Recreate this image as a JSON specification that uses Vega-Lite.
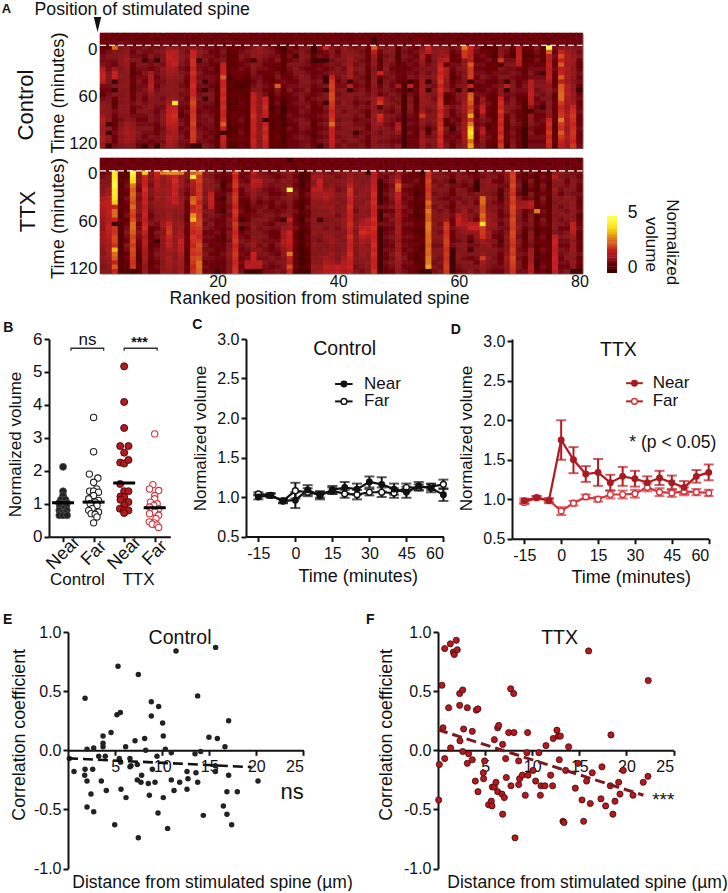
{"$schema":"https://vega.github.io/schema/vega-lite/v6.json","padding":0,"spacing":0,
"config":{"view":{"stroke":null},"font":"Liberation Sans","text":{"font":"Liberation Sans","color":"#111"},"axis":{"grid":false,"domainColor":"#111","tickColor":"#111","domainWidth":2,"tickWidth":2,"tickSize":5,"labelFont":"Liberation Sans","titleFont":"Liberation Sans","labelColor":"#111","titleColor":"#111","labelFontSize":16,"titleFontSize":17,"titleFontWeight":"normal"}},
"datasets":{
"hm1":[{"c":1,"v":[8,8,7,5,8,9,9,10,17,19,20,18,9,8,6,9,11,13,12,14,17,16,14,15,16,15,14]},{"c":2,"v":[8,7,8,6,9,10,9,9,9,10,11,10,9,8,9,10,10,11,12,11,12,1,13,1,12,11,1]},{"c":3,"v":[7,8,8,28,11,10,9,8,14,20,19,1,10,1,11,8,5,7,9,8,7,6,8,9,8,7,9]},{"c":4,"v":[8,7,9,10,10,12,11,11,10,11,12,11,12,11,10,11,10,11,12,10,9,10,12,13,11,12,10]},{"c":5,"v":[7,8,8,11,12,13,14,14,13,12,11,12,12,11,11,12,11,12,12,11,12,14,15,16,15,14,12]},{"c":6,"v":[8,8,7,9,8,9,10,7,6,5,7,8,6,7,8,7,9,8,7,9,10,12,13,15,14,13,11]},{"c":7,"v":[8,7,8,9,10,9,10,10,9,8,9,10,9,9,10,10,11,9,10,9,8,9,10,11,10,9,8]},{"c":8,"v":[7,8,7,10,9,8,1,10,9,10,9,8,9,10,9,8,9,10,11,9,8,9,10,9,8,9,1]},{"c":9,"v":[8,8,8,9,9,11,9,9,8,15,16,17,18,16,13,12,11,12,10,11,10,9,10,9,10,8,9]},{"c":10,"v":[8,7,8,9,10,9,1,10,9,9,8,9,8,9,10,11,10,9,8,9,9,8,7,8,9,9,1]},{"c":11,"v":[7,8,8,10,11,10,10,9,12,11,10,9,10,11,10,9,10,9,10,11,12,10,9,10,10,9,10]},{"c":12,"v":[8,8,7,13,17,19,18,17,15,14,13,12,11,12,11,13,15,18,19,20,19,18,16,15,17,16,15]},{"c":13,"v":[8,7,8,12,18,17,18,19,15,14,12,11,12,11,12,13,42,19,20,21,20,18,17,16,15,14,13]},{"c":14,"v":[7,8,8,10,11,12,12,10,9,10,11,10,9,10,9,10,9,8,7,5,9,10,8,9,10,9,9]},{"c":15,"v":[8,8,7,10,9,10,9,9,8,9,8,7,8,9,9,8,9,8,9,8,7,8,9,8,8,9,8]},{"c":16,"v":[8,7,8,11,20,20,21,21,20,21,19,20,21,20,20,22,24,22,21,22,22,23,21,22,22,21,1]},{"c":17,"v":[7,8,8,10,13,12,1,9,9,10,9,10,9,8,9,10,9,9,8,9,9,8,9,10,10,9,1]},{"c":18,"v":[8,8,8,9,10,9,10,9,8,8,9,1,9,1,10,1,9,8,9,10,9,9,8,9,8,9,10]},{"c":19,"v":[8,7,7,9,8,9,8,8,9,8,9,9,8,9,10,10,9,8,8,9,10,9,9,8,9,8,9]},{"c":20,"v":[7,8,8,8,7,8,9,6,5,7,8,7,6,5,7,6,5,6,7,6,5,6,7,6,5,6,6]},{"c":21,"v":[8,8,7,9,10,9,10,19,20,20,26,20,20,21,20,21,20,21,20,20,21,26,20,1,20,19,18]},{"c":22,"v":[7,8,8,7,6,5,6,5,6,5,4,5,6,5,6,5,4,5,6,5,6,5,4,5,6,5,5]},{"c":23,"v":[8,7,8,8,7,6,7,6,7,8,7,6,5,6,7,6,5,6,7,8,7,6,5,6,7,6,5]},{"c":24,"v":[8,8,7,8,9,10,9,8,9,8,7,5,4,5,6,7,8,7,6,8,9,7,8,9,8,7,8]},{"c":25,"v":[8,8,8,9,10,9,8,9,8,7,5,4,5,6,5,6,5,6,5,6,5,6,5,6,7,6,6]},{"c":26,"v":[7,8,8,11,12,13,1,12,11,10,9,8,9,10,19,20,18,19,20,21,20,19,20,19,18,20,19]},{"c":27,"v":[8,8,7,14,13,12,11,10,9,8,9,10,11,10,12,13,12,13,12,13,12,11,12,13,12,11,12]},{"c":28,"v":[8,7,8,10,11,10,9,8,9,8,7,8,9,8,9,20,20,21,20,19,1,20,21,20,21,20,19]},{"c":29,"v":[7,8,8,9,10,9,8,8,7,8,6,7,8,6,5,4,5,1,5,6,5,4,5,6,5,6,5]},{"c":30,"v":[8,8,7,7,8,9,10,8,7,9,10,8,26,10,9,8,9,7,8,7,6,7,6,7,8,7,7]},{"c":31,"v":[8,7,8,1,5,6,5,6,5,6,8,9,8,7,6,5,4,1,1,4,3,4,5,4,3,4,5]},{"c":32,"v":[7,8,7,9,8,9,8,10,9,8,7,8,9,10,8,7,8,7,8,9,8,7,9,8,7,8,8]},{"c":33,"v":[8,8,8,8,9,1,9,10,11,10,9,8,9,8,9,8,9,8,7,8,9,8,7,8,9,8,8]},{"c":34,"v":[7,8,8,10,11,12,11,10,9,11,12,11,10,9,10,11,10,9,10,9,10,11,10,9,10,9,9]},{"c":35,"v":[8,7,7,10,9,10,9,9,8,9,10,11,10,11,9,8,9,10,9,8,9,10,9,8,9,9,10]},{"c":36,"v":[8,8,8,1,1,6,1,7,8,7,8,9,8,7,8,9,7,6,7,8,6,5,7,6,5,7,8]},{"c":37,"v":[7,8,7,9,8,9,1,8,9,8,9,10,9,8,9,10,9,8,7,9,8,9,8,9,8,9,1]},{"c":38,"v":[8,7,8,20,9,8,1,9,8,9,1,1,10,1,11,10,1,10,9,10,9,10,9,10,9,10,9]},{"c":39,"v":[8,8,8,10,11,10,9,10,9,11,20,22,23,22,24,24,22,21,20,21,22,28,20,19,20,19,18]},{"c":40,"v":[7,8,7,9,8,9,10,9,11,10,9,8,9,10,9,10,9,10,11,10,9,10,9,10,9,10,9]},{"c":41,"v":[8,8,8,13,12,11,10,11,9,10,11,10,9,11,10,11,12,10,9,11,10,12,10,11,10,9,10]},{"c":42,"v":[7,7,8,10,11,13,14,15,16,15,16,1,18,1,12,11,10,11,10,11,10,11,12,10,11,10,9]},{"c":43,"v":[8,8,7,9,10,11,10,9,10,9,10,9,8,9,10,9,8,9,10,9,8,9,10,1,9,10,9]},{"c":44,"v":[8,7,8,10,9,10,9,10,11,10,9,10,9,10,11,10,9,10,9,10,9,9,10,9,10,9,10]},{"c":45,"v":[7,8,8,8,7,6,7,8,6,7,5,6,7,8,9,10,8,9,7,6,9,8,7,9,8,7,8]},{"c":46,"v":[8,1,1,26,18,14,12,13,10,11,12,13,12,11,12,13,14,12,13,14,12,13,12,11,12,11,12]},{"c":47,"v":[7,8,8,11,8,7,5,6,7,20,7,3,8,9,8,19,22,3,10,21,20,14,10,9,10,9,10]},{"c":48,"v":[8,8,7,10,11,9,10,11,12,10,9,10,11,10,9,11,12,10,9,11,10,9,10,11,10,9,10]},{"c":49,"v":[8,7,8,12,11,10,11,9,8,9,10,9,8,9,10,9,10,9,8,10,9,8,9,10,9,8,9]},{"c":50,"v":[7,8,8,6,5,4,5,6,7,7,8,7,14,8,9,10,9,11,10,9,8,16,18,13,9,8,12]},{"c":51,"v":[8,8,7,10,9,10,9,8,7,8,7,5,4,5,4,3,4,3,4,3,3,3,3,3,3,3,3]},{"c":52,"v":[8,7,7,9,8,9,8,9,8,9,10,1,19,1,9,11,10,12,10,9,8,9,8,9,8,7,8]},{"c":53,"v":[7,8,8,8,9,7,9,8,9,8,9,7,6,8,7,4,5,6,7,8,7,8,7,6,7,8,7]},{"c":54,"v":[8,8,8,11,13,16,14,12,10,11,13,14,15,16,15,14,13,12,14,22,13,12,10,14,13,15,14]},{"c":55,"v":[7,7,8,20,18,8,6,9,10,9,10,1,10,1,11,12,13,10,9,11,10,9,4,5,9,10,9]},{"c":56,"v":[8,8,8,11,12,11,10,11,10,11,12,10,9,11,10,9,11,12,10,11,12,10,9,11,10,11,10]},{"c":57,"v":[8,7,7,12,13,14,16,20,21,20,21,22,20,21,20,21,22,21,20,21,20,21,22,21,20,21,20]},{"c":58,"v":[7,8,8,11,12,15,18,5,16,15,14,13,12,14,5,4,6,13,11,12,5,5,10,9,8,9,10]},{"c":59,"v":[8,8,7,9,8,6,7,9,8,6,5,7,8,9,8,7,8,9,7,8,9,7,1,8,9,8,7]},{"c":60,"v":[8,7,8,10,9,8,7,9,10,9,8,9,10,1,11,10,9,11,10,9,8,9,10,9,8,9,10]},{"c":61,"v":[7,8,8,30,22,22,12,13,12,10,11,10,11,12,13,14,15,16,14,12,13,14,15,16,15,14,13]},{"c":62,"v":[8,8,8,20,18,18,18,26,22,22,22,1,20,1,26,28,25,22,24,34,22,30,38,42,38,28,34]},{"c":63,"v":[7,7,8,10,9,8,6,9,8,9,8,9,7,8,9,7,8,9,8,7,9,8,9,8,7,8,9]},{"c":64,"v":[8,8,7,7,8,9,8,9,8,9,10,9,8,7,9,14,13,18,20,13,10,9,16,18,12,11,10]},{"c":65,"v":[7,8,8,6,7,8,9,7,6,8,9,7,8,9,8,7,9,8,7,8,9,6,5,8,9,8,7]},{"c":66,"v":[8,7,7,7,5,4,6,8,7,9,8,7,9,8,6,7,5,6,7,5,6,7,8,7,6,7,5]},{"c":67,"v":[8,8,8,10,11,12,22,3,10,9,10,9,10,12,12,20,21,20,22,20,21,20,21,20,22,20,22]},{"c":68,"v":[7,8,7,10,9,8,9,10,9,9,10,1,18,1,9,8,9,10,11,8,6,5,6,7,6,5,5]},{"c":69,"v":[8,7,8,7,5,4,9,10,9,10,9,10,11,10,9,10,11,10,9,10,11,10,9,10,9,10,11]},{"c":70,"v":[8,8,8,18,18,19,18,17,8,9,8,7,8,9,8,7,8,9,8,7,8,9,8,7,8,7,8]},{"c":71,"v":[7,8,7,7,6,5,6,7,6,7,7,9,10,9,8,6,5,4,5,6,5,5,1,1,1,1,1]},{"c":72,"v":[8,7,8,8,6,5,6,8,9,10,9,18,17,18,19,18,17,10,4,13,12,10,9,10,9,8,9]},{"c":73,"v":[8,8,7,10,9,8,9,8,9,8,9,10,11,9,10,8,9,8,9,7,8,9,8,7,9,8,9]},{"c":74,"v":[7,8,8,6,7,6,5,8,9,1,9,10,11,10,9,10,8,1,9,8,9,8,7,8,9,8,9]},{"c":75,"v":[8,7,8,50,26,18,17,19,18,18,19,16,12,13,11,10,12,11,13,12,20,21,20,22,20,21,20]},{"c":76,"v":[7,8,8,9,8,9,8,7,9,8,7,6,8,9,7,6,8,7,6,8,7,6,5,7,6,7,6]},{"c":77,"v":[8,8,7,11,20,24,20,26,18,20,26,18,26,26,28,28,22,20,21,22,30,22,21,26,22,20,18]},{"c":78,"v":[8,7,8,12,14,16,15,14,16,15,16,14,18,17,18,16,15,14,16,18,15,16,14,15,16,14,15]},{"c":79,"v":[7,8,7,11,12,13,14,13,12,13,12,11,13,12,14,13,15,20,21,22,21,20,21,22,21,20,22]},{"c":80,"v":[8,8,8,10,9,10,8,7,8,9,8,9,7,1,8,9,7,8,9,8,7,8,9,8,7,8,9]}],
"hm2":[{"c":1,"v":[8,7,8,8,9,10,11,11,12,16,18,17,16,15,14,13,12,14,15,14,13,12,11,12,11,10,11]},{"c":2,"v":[7,8,7,9,10,10,12,14,15,18,19,18,19,18,17,18,19,18,17,16,15,16,15,14,13,12,11]},{"c":3,"v":[8,8,8,42,42,46,50,43,44,42,38,20,28,28,20,1,22,21,24,24,21,36,28,26,20,26,20]},{"c":4,"v":[7,7,8,6,5,6,5,7,6,5,7,6,5,4,6,5,4,5,4,5,4,5,4,5,4,5,5]},{"c":5,"v":[8,8,7,5,6,8,9,8,7,9,8,7,8,9,7,8,9,10,9,8,10,9,7,8,7,6,5]},{"c":6,"v":[7,8,8,48,42,40,30,26,28,26,24,28,24,22,24,28,28,26,23,24,22,24,23,22,21,22,1]},{"c":7,"v":[8,7,8,12,10,11,9,8,10,9,11,10,11,9,10,8,9,10,9,8,7,6,5,4,5,6,5]},{"c":8,"v":[7,8,7,38,20,19,20,21,20,19,20,18,19,20,19,20,21,19,16,18,17,16,15,16,14,12,13]},{"c":9,"v":[8,8,8,12,11,10,9,11,10,9,11,10,9,8,9,10,7,6,7,8,6,7,8,7,6,7,8]},{"c":10,"v":[7,7,8,20,18,16,17,15,14,15,13,12,11,10,12,9,8,10,9,1,8,9,10,9,8,9,8]},{"c":11,"v":[8,8,7,30,13,12,13,14,13,12,14,13,12,11,13,14,12,11,13,12,11,12,13,12,11,12,12]},{"c":12,"v":[8,7,8,32,16,15,14,15,14,16,15,14,13,14,15,20,21,22,20,18,19,15,14,16,15,14,13]},{"c":13,"v":[7,8,8,32,20,21,20,19,20,18,19,14,12,11,12,13,12,13,14,12,13,14,12,11,13,12,11]},{"c":14,"v":[8,8,7,30,13,14,15,12,11,13,14,13,12,11,12,13,14,15,16,20,19,18,17,16,15,14,15]},{"c":15,"v":[7,7,8,11,10,9,10,9,8,9,8,7,8,7,6,8,7,6,8,7,8,7,6,7,6,8,7]},{"c":16,"v":[8,8,7,26,44,18,16,15,14,26,28,20,21,32,36,22,21,20,22,21,20,22,21,23,22,20,21]},{"c":17,"v":[7,8,8,30,22,23,21,22,21,22,20,22,21,22,23,24,22,21,20,22,24,23,22,24,28,28,27]},{"c":18,"v":[8,7,8,12,11,13,12,11,10,11,10,9,10,9,10,9,10,8,9,8,10,9,10,9,8,9,8]},{"c":19,"v":[8,8,7,11,10,12,11,13,19,20,19,18,11,10,9,10,9,8,9,8,7,9,8,9,8,7,8]},{"c":20,"v":[7,8,8,9,8,9,10,9,8,7,8,7,8,9,8,7,8,9,7,6,8,7,6,8,7,7,1]},{"c":21,"v":[8,7,7,8,7,5,1,6,8,1,7,6,1,8,7,8,7,6,5,6,7,8,9,8,7,8,7]},{"c":22,"v":[7,8,8,9,8,7,9,8,10,11,10,9,10,9,11,10,9,11,10,9,10,11,12,11,10,11,10]},{"c":23,"v":[8,8,8,22,20,21,22,20,21,22,21,20,22,21,20,22,21,20,21,22,20,21,22,21,20,21,22]},{"c":24,"v":[7,7,8,9,8,9,10,8,7,8,7,8,9,8,1,9,1,8,9,10,9,8,9,8,9,8,9]},{"c":25,"v":[8,8,7,8,9,8,10,11,9,8,6,5,6,8,7,9,8,9,8,9,10,9,8,9,16,18,1]},{"c":26,"v":[7,8,8,18,14,18,17,15,13,12,10,9,8,9,10,11,12,10,11,12,13,11,20,19,18,17,1]},{"c":27,"v":[8,7,8,11,12,18,16,11,10,9,8,9,10,9,11,10,9,10,11,10,9,11,10,9,18,17,1]},{"c":28,"v":[7,8,7,9,10,11,10,9,10,11,9,10,9,10,11,9,10,9,10,9,10,9,10,9,10,9,9]},{"c":29,"v":[8,8,8,8,9,10,9,8,7,9,8,7,9,10,9,8,9,7,8,9,7,8,9,10,9,8,9]},{"c":30,"v":[8,7,7,9,8,9,10,9,8,9,10,9,8,9,8,10,9,8,7,9,10,9,8,9,10,9,10]},{"c":31,"v":[7,8,8,10,9,11,10,11,9,10,9,8,9,11,1,10,13,15,14,16,15,13,12,10,11,10,9]},{"c":32,"v":[1,8,8,12,11,10,12,50,13,12,11,10,11,12,20,13,14,20,19,20,18,17,30,19,18,24,20]},{"c":33,"v":[8,7,7,9,8,9,8,9,10,9,8,7,9,8,7,8,9,7,6,8,7,6,8,7,6,8,1]},{"c":34,"v":[7,8,8,4,3,4,3,5,6,5,4,3,5,4,3,4,5,4,3,4,3,2,3,2,3,4,4]},{"c":35,"v":[8,8,7,6,5,6,8,7,9,8,7,9,8,7,9,8,7,6,8,7,8,6,5,6,5,7,1]},{"c":36,"v":[7,7,8,11,14,12,13,18,16,14,13,12,10,11,13,12,11,13,11,10,12,11,10,11,12,14,13]},{"c":37,"v":[8,8,7,13,15,20,19,18,15,14,12,13,11,12,1,10,11,12,10,9,11,10,11,12,11,13,14]},{"c":38,"v":[7,8,8,10,12,11,10,13,16,17,14,13,11,12,10,11,9,12,13,11,10,12,11,14,16,18,17]},{"c":39,"v":[8,7,8,9,11,10,12,14,15,13,12,14,13,12,11,12,11,12,13,14,13,12,14,13,15,18,17]},{"c":40,"v":[7,8,7,10,9,11,10,9,11,10,12,10,11,9,11,10,9,11,10,12,11,10,11,10,12,19,18]},{"c":41,"v":[8,8,8,11,10,12,11,10,12,11,10,12,11,12,14,13,12,11,12,10,11,12,13,15,17,18,16]},{"c":42,"v":[7,7,8,13,14,15,18,22,21,20,19,21,20,19,20,21,20,19,21,20,19,20,21,20,19,20,18]},{"c":43,"v":[8,8,7,11,10,11,12,11,10,12,11,10,9,11,10,12,11,10,12,11,10,11,10,11,10,9,10]},{"c":44,"v":[7,8,8,12,11,10,11,12,13,12,11,13,12,11,14,16,19,21,18,15,14,13,14,12,11,10,9]},{"c":45,"v":[8,7,8,2,10,11,12,13,12,11,14,13,11,12,18,17,19,20,16,14,12,13,12,11,13,12,11]},{"c":46,"v":[7,8,8,18,17,18,19,20,21,20,21,20,19,20,21,20,21,20,19,20,21,20,21,20,19,20,21]},{"c":47,"v":[8,8,7,9,9,2,2,2,2,2,2,9,2,2,2,9,2,2,2,2,2,2,2,2,2,2,2]},{"c":48,"v":[7,7,8,10,8,9,7,8,9,7,8,9,7,10,8,9,7,8,9,8,7,9,8,7,9,8,7]},{"c":49,"v":[8,8,7,9,10,11,9,10,11,10,9,10,8,9,10,9,8,9,10,9,8,9,10,9,10,9,8]},{"c":50,"v":[7,8,8,13,14,20,26,24,18,19,17,16,15,16,15,14,15,16,14,13,15,14,16,15,14,13,12]},{"c":51,"v":[8,7,7,9,8,7,10,8,9,8,9,10,8,9,8,9,7,8,9,8,9,8,9,10,9,8,9]},{"c":52,"v":[7,8,8,8,7,8,9,7,8,9,7,8,9,7,8,9,7,8,9,7,8,9,8,7,9,8,7]},{"c":53,"v":[8,8,8,7,8,9,7,5,4,5,6,5,3,4,6,7,6,5,7,6,8,7,5,4,6,7,6]},{"c":54,"v":[7,7,8,1,6,5,7,6,5,7,6,5,7,5,6,7,6,5,6,7,6,5,7,6,5,6,1]},{"c":55,"v":[8,8,7,22,21,23,22,21,22,22,28,24,30,26,26,30,30,28,27,28,26,28,27,30,30,34,1]},{"c":56,"v":[7,8,8,11,10,9,11,10,9,10,11,9,10,11,10,12,10,11,12,10,9,10,11,10,9,10,9]},{"c":57,"v":[8,7,8,10,11,10,9,11,10,9,10,11,9,10,11,9,10,9,11,10,9,11,10,9,10,9,10]},{"c":58,"v":[7,8,7,9,10,9,11,10,9,8,10,9,11,12,14,22,22,21,22,23,22,21,22,21,22,23,22]},{"c":59,"v":[8,8,8,9,8,1,9,8,7,9,8,7,8,9,8,7,9,8,7,8,9,1,1,1,1,1,1]},{"c":60,"v":[7,7,8,10,11,10,9,11,10,9,12,11,10,18,20,19,12,11,10,9,11,10,12,11,10,9,8]},{"c":61,"v":[8,8,7,9,10,9,8,10,11,10,9,12,14,13,15,16,14,13,11,10,12,11,10,9,11,10,9]},{"c":62,"v":[7,8,8,8,9,10,9,8,9,10,11,10,9,11,10,18,20,12,8,5,9,2,10,8,11,10,12]},{"c":63,"v":[8,7,7,7,8,1,1,1,10,9,8,10,11,9,8,18,20,13,12,10,9,11,10,9,8,10,9]},{"c":64,"v":[7,8,8,10,9,11,10,12,11,28,28,24,24,28,26,40,22,22,21,14,12,11,13,22,15,13,12]},{"c":65,"v":[8,8,8,10,11,13,12,11,10,12,11,10,12,13,15,14,13,15,14,12,13,11,10,12,11,10,9]},{"c":66,"v":[7,7,8,9,10,8,11,10,9,10,9,11,10,12,11,13,12,9,8,10,9,11,10,9,10,9,8]},{"c":67,"v":[8,8,7,9,8,7,9,5,4,5,8,9,8,7,9,8,9,8,6,5,7,9,8,7,8,9,8]},{"c":68,"v":[7,8,8,12,11,10,9,10,11,10,12,11,10,9,11,10,9,10,12,11,10,11,12,14,13,12,11]},{"c":69,"v":[8,7,8,22,23,22,24,22,21,23,22,24,23,22,24,23,22,24,23,22,21,23,22,24,23,22,21]},{"c":70,"v":[7,8,7,9,8,9,10,9,8,10,14,15,12,11,10,11,12,10,9,11,10,9,10,9,11,10,9]},{"c":71,"v":[8,8,8,5,6,4,1,1,2,8,14,15,7,6,8,9,7,6,5,7,6,8,9,7,6,8,9]},{"c":72,"v":[7,7,8,9,8,10,9,8,10,9,18,17,9,10,11,10,9,11,12,10,9,14,15,14,16,18,17]},{"c":73,"v":[8,8,7,6,4,5,6,5,7,5,6,6,30,5,6,7,5,4,6,7,5,6,4,5,3,4,6]},{"c":74,"v":[7,8,8,8,9,8,10,9,8,10,9,8,9,8,10,9,7,8,9,8,7,9,8,7,8,9,8]},{"c":75,"v":[8,7,8,5,7,6,5,6,7,5,6,5,7,6,5,7,6,7,5,6,7,6,5,6,7,6,5]},{"c":76,"v":[7,8,7,13,17,12,11,14,12,11,10,12,11,10,11,12,11,10,19,20,19,18,19,20,19,20,18]},{"c":77,"v":[8,8,8,11,10,12,11,9,8,10,11,9,10,11,9,10,8,9,10,9,8,10,9,8,9,8,9]},{"c":78,"v":[7,7,8,10,9,8,9,11,10,12,11,10,9,11,10,9,8,10,11,9,8,9,10,11,9,8,10]},{"c":79,"v":[8,8,7,9,10,11,12,10,9,11,12,13,12,11,13,18,19,17,14,12,13,14,12,11,13,12,1]},{"c":80,"v":[7,8,8,9,8,9,8,7,9,8,7,8,9,6,7,8,9,7,6,8,7,8,9,7,8,7,1]}],
"cbar":[{"c":85.4,"r":14.35,"v":50},{"c":85.4,"r":14.86,"v":48},{"c":85.4,"r":15.37,"v":46},{"c":85.4,"r":15.88,"v":44},{"c":85.4,"r":16.39,"v":42},{"c":85.4,"r":16.9,"v":40},{"c":85.4,"r":17.41,"v":38},{"c":85.4,"r":17.92,"v":36},{"c":85.4,"r":18.43,"v":34},{"c":85.4,"r":18.94,"v":32},{"c":85.4,"r":19.45,"v":30},{"c":85.4,"r":19.96,"v":28},{"c":85.4,"r":20.47,"v":26},{"c":85.4,"r":20.98,"v":24},{"c":85.4,"r":21.49,"v":22},{"c":85.4,"r":22,"v":20},{"c":85.4,"r":22.51,"v":18},{"c":85.4,"r":23.02,"v":16},{"c":85.4,"r":23.53,"v":14},{"c":85.4,"r":24.04,"v":12},{"c":85.4,"r":24.55,"v":10},{"c":85.4,"r":25.06,"v":8},{"c":85.4,"r":25.57,"v":6},{"c":85.4,"r":26.08,"v":4},{"c":85.4,"r":26.59,"v":2},{"c":85.4,"r":27.1,"v":0}],
"b_cn":[{"x":1,"y":2.12},{"x":1,"y":1.38},{"x":1,"y":1.25},{"x":0.93,"y":1.12},{"x":1.08,"y":1.12},{"x":0.87,"y":1.02},{"x":1,"y":1},{"x":1.13,"y":1.02},{"x":0.9,"y":0.92},{"x":1.1,"y":0.92},{"x":1,"y":0.85},{"x":0.88,"y":0.8},{"x":1.12,"y":0.8},{"x":0.93,"y":0.72},{"x":1.07,"y":0.72},{"x":0.88,"y":0.65},{"x":1,"y":0.65},{"x":1.13,"y":0.65}],
"b_cf":[{"x":2,"y":3.62},{"x":2,"y":2.58},{"x":1.86,"y":1.9},{"x":2.14,"y":1.78},{"x":2,"y":1.65},{"x":2.1,"y":1.45},{"x":1.87,"y":1.38},{"x":2,"y":1.38},{"x":2.16,"y":1.35},{"x":2,"y":1.25},{"x":1.84,"y":1.15},{"x":2.16,"y":1.1},{"x":2.05,"y":1.05},{"x":1.89,"y":1},{"x":2.11,"y":0.95},{"x":1.95,"y":0.85},{"x":1.84,"y":0.8},{"x":2.16,"y":0.75},{"x":1.92,"y":0.7},{"x":2.05,"y":0.68},{"x":2.11,"y":0.6},{"x":2,"y":0.42}],
"b_tn":[{"x":3,"y":5.17},{"x":3,"y":4.09},{"x":3,"y":3.3},{"x":2.87,"y":2.75},{"x":3.14,"y":2.75},{"x":3,"y":2.55},{"x":2.87,"y":2.25},{"x":3,"y":2.22},{"x":3.14,"y":2.33},{"x":2.87,"y":1.6},{"x":3,"y":1.38},{"x":3.14,"y":1.38},{"x":2.88,"y":1.22},{"x":3,"y":1.2},{"x":2.88,"y":1.12},{"x":3.14,"y":1.05},{"x":3,"y":0.95},{"x":2.86,"y":0.85},{"x":3,"y":0.8},{"x":3.14,"y":0.8},{"x":3,"y":0.72}],
"b_tf":[{"x":4,"y":3.12},{"x":3.94,"y":1.58},{"x":3.83,"y":1.45},{"x":4.13,"y":1.4},{"x":4,"y":1.25},{"x":4,"y":1.15},{"x":3.86,"y":1.05},{"x":4.08,"y":1},{"x":3.97,"y":0.95},{"x":3.83,"y":0.9},{"x":4.13,"y":0.85},{"x":3.92,"y":0.8},{"x":4,"y":0.75},{"x":3.83,"y":0.7},{"x":4.13,"y":0.65},{"x":4.04,"y":0.55},{"x":3.82,"y":0.45},{"x":3.99,"y":0.42},{"x":3.92,"y":0.38},{"x":4.08,"y":0.35},{"x":4.13,"y":0.28}],
"b_mean":[{"x":0.64,"x2":1.36,"y":1.03},{"x":1.64,"x2":2.36,"y":1.05},{"x":2.64,"x2":3.36,"y":1.63},{"x":3.64,"x2":4.36,"y":0.88}],
"b_br":[{"k":1,"x":1.26,"y":5.64},{"k":1,"x":1.26,"y":5.72},{"k":1,"x":2.33,"y":5.72},{"k":1,"x":2.33,"y":5.64},{"k":2,"x":3,"y":5.64},{"k":2,"x":3,"y":5.72},{"k":2,"x":4.08,"y":5.72},{"k":2,"x":4.08,"y":5.64}],
"c_n":[{"t":-15,"m":1,"lo":0.97,"hi":1.03},{"t":-10,"m":1.02,"lo":0.99,"hi":1.05},{"t":-5,"m":0.95,"lo":0.92,"hi":0.98},{"t":0,"m":0.96,"lo":0.86,"hi":1.06},{"t":5,"m":1.09,"lo":1.03,"hi":1.15},{"t":10,"m":1.02,"lo":0.97,"hi":1.07},{"t":15,"m":1.09,"lo":1.04,"hi":1.14},{"t":20,"m":1.12,"lo":1.05,"hi":1.19},{"t":25,"m":1.1,"lo":1.03,"hi":1.17},{"t":30,"m":1.19,"lo":1.12,"hi":1.26},{"t":35,"m":1.16,"lo":1.07,"hi":1.25},{"t":40,"m":1.1,"lo":1.03,"hi":1.17},{"t":45,"m":1.06,"lo":0.99,"hi":1.13},{"t":50,"m":1.14,"lo":1.09,"hi":1.19},{"t":55,"m":1.11,"lo":1.06,"hi":1.16},{"t":60,"m":1.03,"lo":0.95,"hi":1.11}],
"c_f":[{"t":-15,"m":1.04,"lo":1.02,"hi":1.06},{"t":-10,"m":1.02,"lo":1,"hi":1.04},{"t":-5,"m":0.95,"lo":0.93,"hi":0.97},{"t":0,"m":1.08,"lo":0.98,"hi":1.18},{"t":5,"m":1.06,"lo":1.01,"hi":1.11},{"t":10,"m":1.03,"lo":0.99,"hi":1.07},{"t":15,"m":1.08,"lo":1.04,"hi":1.12},{"t":20,"m":1.04,"lo":0.99,"hi":1.09},{"t":25,"m":1.03,"lo":0.97,"hi":1.09},{"t":30,"m":1.06,"lo":1.02,"hi":1.1},{"t":35,"m":1.06,"lo":1,"hi":1.12},{"t":40,"m":1.05,"lo":0.99,"hi":1.11},{"t":45,"m":1.12,"lo":1.07,"hi":1.17},{"t":50,"m":1.12,"lo":1.08,"hi":1.16},{"t":55,"m":1.13,"lo":1.09,"hi":1.17},{"t":60,"m":1.16,"lo":1.1,"hi":1.22}],
"d_n":[{"t":-15,"m":0.98,"lo":0.95,"hi":1.01},{"t":-10,"m":1.02,"lo":1,"hi":1.04},{"t":-5,"m":0.98,"lo":0.95,"hi":1.01},{"t":0,"m":1.75,"lo":1.5,"hi":2},{"t":5,"m":1.5,"lo":1.33,"hi":1.66},{"t":10,"m":1.32,"lo":1.22,"hi":1.42},{"t":15,"m":1.34,"lo":1.17,"hi":1.51},{"t":20,"m":1.21,"lo":1.11,"hi":1.31},{"t":25,"m":1.29,"lo":1.17,"hi":1.41},{"t":30,"m":1.26,"lo":1.16,"hi":1.36},{"t":35,"m":1.21,"lo":1.13,"hi":1.29},{"t":40,"m":1.27,"lo":1.18,"hi":1.36},{"t":45,"m":1.21,"lo":1.12,"hi":1.3},{"t":50,"m":1.15,"lo":1.07,"hi":1.23},{"t":55,"m":1.29,"lo":1.21,"hi":1.37},{"t":60,"m":1.34,"lo":1.24,"hi":1.44}],
"d_f":[{"t":-15,"m":0.96,"lo":0.94,"hi":0.98},{"t":-10,"m":1.02,"lo":1,"hi":1.04},{"t":-5,"m":0.99,"lo":0.97,"hi":1.01},{"t":0,"m":0.85,"lo":0.8,"hi":0.9},{"t":5,"m":0.95,"lo":0.92,"hi":0.98},{"t":10,"m":1.03,"lo":1,"hi":1.06},{"t":15,"m":1,"lo":0.97,"hi":1.03},{"t":20,"m":1.06,"lo":1.01,"hi":1.11},{"t":25,"m":1.06,"lo":1.01,"hi":1.11},{"t":30,"m":1.07,"lo":1.02,"hi":1.12},{"t":35,"m":1.15,"lo":1.1,"hi":1.2},{"t":40,"m":1.09,"lo":1.04,"hi":1.14},{"t":45,"m":1.08,"lo":1.03,"hi":1.13},{"t":50,"m":1.1,"lo":1.05,"hi":1.15},{"t":55,"m":1.09,"lo":1.05,"hi":1.13},{"t":60,"m":1.08,"lo":1.04,"hi":1.12}],
"e_pts":[{"x":0.14,"y":-0.07},{"x":0.64,"y":-0.18},{"x":1.77,"y":-0.21},{"x":1.81,"y":-0.16},{"x":1.81,"y":0.44},{"x":2.02,"y":0.01},{"x":2.02,"y":-0.26},{"x":2.73,"y":0.02},{"x":2.62,"y":-0.16},{"x":2.44,"y":-0.37},{"x":2.02,"y":-0.48},{"x":2.73,"y":-0.52},{"x":3.26,"y":-0.05},{"x":3.54,"y":-0.26},{"x":3.72,"y":0.12},{"x":3.72,"y":0.06},{"x":3.72,"y":0.03},{"x":3.96,"y":-0.05},{"x":4.07,"y":-0.34},{"x":4.57,"y":0.15},{"x":4.96,"y":-0.63},{"x":5.2,"y":0.3},{"x":5.31,"y":0.71},{"x":5.56,"y":0.32},{"x":5.45,"y":-0.07},{"x":5.63,"y":-0.33},{"x":5.59,"y":-0.1},{"x":6.12,"y":0.03},{"x":6.16,"y":-0.4},{"x":6.58,"y":-0.14},{"x":6.69,"y":-0.13},{"x":6.58,"y":-0.07},{"x":7.12,"y":0.08},{"x":7.36,"y":-0.25},{"x":7.36,"y":-0.12},{"x":7.47,"y":0.64},{"x":7.47,"y":-0.74},{"x":7.82,"y":-0.21},{"x":7.75,"y":-0.27},{"x":8.14,"y":0.1},{"x":8.25,"y":0},{"x":8.53,"y":-0.28},{"x":8.64,"y":-0.38},{"x":8.85,"y":0.41},{"x":8.85,"y":0.29},{"x":8.96,"y":-0.16},{"x":9.24,"y":-0.27},{"x":9.45,"y":-0.05},{"x":9.56,"y":-0.53},{"x":9.63,"y":0.37},{"x":10.05,"y":0.23},{"x":10.12,"y":0.12},{"x":10.12,"y":-0.4},{"x":10.34,"y":0.01},{"x":10.58,"y":-0.66},{"x":10.97,"y":-0.02},{"x":10.97,"y":-0.25},{"x":11.26,"y":-0.34},{"x":11.47,"y":0.84},{"x":11.86,"y":-0.27},{"x":12.64,"y":-0.18},{"x":12.64,"y":-0.33},{"x":12.74,"y":-0.24},{"x":13.49,"y":-0.03},{"x":13.59,"y":-0.19},{"x":13.77,"y":-0.27},{"x":13.77,"y":0.46},{"x":14.09,"y":-0.01},{"x":14.37,"y":-0.55},{"x":14.97,"y":0.11},{"x":15.65,"y":-0.13},{"x":15.65,"y":-0.18},{"x":15.86,"y":0.1},{"x":15.68,"y":0.87},{"x":16.5,"y":-0.47},{"x":16.67,"y":0.03},{"x":16.88,"y":-0.54},{"x":16.88,"y":-0.35},{"x":17.06,"y":-0.21},{"x":17.06,"y":0.25},{"x":17.38,"y":-0.63},{"x":17.98,"y":-0.35},{"x":20.18,"y":-0.26}],
"f_pts":[{"x":0.07,"y":-0.42},{"x":0.14,"y":-0.12},{"x":0.42,"y":0.55},{"x":0.53,"y":0.19},{"x":0.71,"y":0.86},{"x":0.71,"y":-0.07},{"x":1.13,"y":0.36},{"x":1.31,"y":0.9},{"x":1.34,"y":0.02},{"x":1.63,"y":0.83},{"x":1.73,"y":0.81},{"x":1.94,"y":0.93},{"x":2.05,"y":0.85},{"x":2.3,"y":0.48},{"x":2.3,"y":0.38},{"x":2.33,"y":0.08},{"x":2.62,"y":0.51},{"x":2.62,"y":-0.01},{"x":2.72,"y":0.18},{"x":3.11,"y":0.36},{"x":3.11,"y":-0.11},{"x":3.25,"y":-0.03},{"x":3.64,"y":0.16},{"x":3.64,"y":-0.08},{"x":3.96,"y":-0.26},{"x":4.07,"y":0.34},{"x":4.24,"y":0.35},{"x":4.24,"y":-0.35},{"x":4.95,"y":-0.09},{"x":4.81,"y":-0.19},{"x":4.84,"y":-0.24},{"x":5.37,"y":-0.46},{"x":5.66,"y":-0.43},{"x":5.73,"y":-0.47},{"x":5.76,"y":-0.31},{"x":5.98,"y":-0.31},{"x":5.98,"y":0.09},{"x":6.15,"y":-0.27},{"x":6.33,"y":0.19},{"x":6.44,"y":0.21},{"x":6.33,"y":-0.35},{"x":6.79,"y":-0.37},{"x":6.86,"y":0.05},{"x":7.04,"y":-0.4},{"x":6.86,"y":-0.54},{"x":7.18,"y":-0.07},{"x":7.25,"y":-0.23},{"x":7.5,"y":0.15},{"x":7.74,"y":-0.3},{"x":7.71,"y":0.52},{"x":8.06,"y":0.15},{"x":8.03,"y":0.48},{"x":8.17,"y":-0.74},{"x":8.56,"y":-0.09},{"x":8.56,"y":-0.29},{"x":8.66,"y":-0.24},{"x":8.95,"y":-0.21},{"x":9.26,"y":-0.38},{"x":9.44,"y":-0.02},{"x":9.51,"y":0.15},{"x":9.55,"y":-0.21},{"x":10.08,"y":-0.17},{"x":10.36,"y":-0.26},{"x":10.71,"y":-0.02},{"x":10.86,"y":-0.38},{"x":10.93,"y":-0.3},{"x":11.35,"y":-0.3},{"x":11.46,"y":0.04},{"x":11.95,"y":-0.21},{"x":12.16,"y":-0.3},{"x":12.23,"y":0.1},{"x":12.62,"y":0.17},{"x":12.77,"y":0.12},{"x":12.98,"y":0.12},{"x":12.87,"y":-0.08},{"x":13.26,"y":-0.6},{"x":13.37,"y":-0.61},{"x":13.54,"y":-0.17},{"x":13.86,"y":0.03},{"x":14.57,"y":-0.32},{"x":14.85,"y":-0.11},{"x":15.28,"y":-0.42},{"x":15.45,"y":-0.6},{"x":15.77,"y":-0.26},{"x":15.98,"y":0.84},{"x":16.16,"y":-0.45},{"x":16.37,"y":-0.19},{"x":17.29,"y":-0.41},{"x":17.4,"y":-0.14},{"x":17.79,"y":-0.47},{"x":18.28,"y":-0.3},{"x":18.35,"y":0.13},{"x":18.56,"y":-0.54},{"x":18.78,"y":-0.43},{"x":19.17,"y":-0.27},{"x":19.31,"y":-0.37},{"x":19.66,"y":-0.17},{"x":20.69,"y":-0.38},{"x":21.78,"y":-0.27},{"x":22.28,"y":-0.22},{"x":22.31,"y":0.59}]
},
"vconcat":[
{"bounds":"flush","spacing":0,"hconcat":[
{"width":99.5,"height":123.5,"data":{"values":[{}]},"mark":{"type":"point","opacity":0},"encoding":{}},
{"width":482.5,"height":115,"view":{"stroke":"#666"},
"encoding":{"x":{"field":"c","type":"quantitative","scale":{"domain":[0.5,80.5]},"axis":null},"y":{"field":"r","type":"quantitative","scale":{"domain":[0.5,27.5],"reverse":true},"axis":{"values":[4.26,15.46,26.56],"labelExpr":"datum.value<8?'0':datum.value<20?'60':'120'","domain":false,"ticks":false,"labelPadding":3,"labelFontSize":17,"title":null}}},
"layer":[
{"data":{"name":"hm1"},"transform":[{"flatten":["v"]},{"window":[{"op":"row_number","as":"r"}],"groupby":["c"]}],"mark":{"type":"rect","width":6.6,"height":4.9},"encoding":{"color":{"field":"v","type":"quantitative","legend":null,"scale":{"domain":[0,10,20,30,40,50],"range":["#000000","#7f1619","#c8201f","#dd7a20","#f5e020","#ffffff"]}}}},
{"data":{"values":[{"c":0.5,"c2":80.5,"r":3.39}]},"mark":{"type":"rule","color":"#fff","strokeWidth":1.3,"strokeDash":[6,3]},"encoding":{"x2":{"field":"c2"}}},
{"data":{"values":[{"c":-10.36,"r":-4.96,"s":"Position of stimulated spine"}]},"mark":{"type":"text","fontSize":17.7,"align":"left","baseline":"middle"},"encoding":{"text":{"field":"s"}}},
{"data":{"values":[{"c":-15,"r":-5.13,"s":"A"}]},"mark":{"type":"text","fontSize":13,"fontWeight":"bold","align":"center","baseline":"middle"},"encoding":{"text":{"field":"s"}}},
{"data":{"values":[{"c":0.085,"r":-1.5}]},"mark":{"type":"point","filled":true,"color":"#111","opacity":1,"size":225,"shape":"M-0.5,-1L0.5,-1L0,1Z"}},
{"data":{"values":[{"c":-11.69,"r":17.4,"s":"Control"}]},"mark":{"type":"text","fontSize":22,"angle":270,"align":"center","baseline":"middle"},"encoding":{"text":{"field":"s"}}},
{"data":{"values":[{"c":-6.38,"r":14.59,"s":"Time (minutes)"}]},"mark":{"type":"text","fontSize":18.3,"angle":270,"align":"center","baseline":"middle"},"encoding":{"text":{"field":"s"}}}
]}]},
{"bounds":"flush","spacing":0,"hconcat":[
{"width":99.5,"height":158.3,"data":{"values":[{}]},"mark":{"type":"point","opacity":0},"encoding":{}},
{"width":482.5,"height":115.5,"view":{"stroke":"#666"},
"encoding":{"x":{"field":"c","type":"quantitative","scale":{"domain":[0.5,80.5]},"axis":{"values":[20,40,60,80],"domain":false,"ticks":false,"labelPadding":0,"labelFontSize":16,"labelAngle":0,"title":null}},"y":{"field":"r","type":"quantitative","scale":{"domain":[0.5,27.5],"reverse":true},"axis":{"values":[4.05,15.27,26.4],"labelExpr":"datum.value<8?'0':datum.value<20?'60':'120'","domain":false,"ticks":false,"labelPadding":3,"labelFontSize":17,"title":null}}},
"layer":[
{"data":{"name":"hm2"},"transform":[{"flatten":["v"]},{"window":[{"op":"row_number","as":"r"}],"groupby":["c"]}],"mark":{"type":"rect","width":6.6,"height":4.9},"encoding":{"color":{"field":"v","type":"quantitative","legend":null,"scale":{"domain":[0,10,20,30,40,50],"range":["#000000","#7f1619","#c8201f","#dd7a20","#f5e020","#ffffff"]}}}},
{"data":{"name":"cbar"},"mark":{"type":"rect","width":10,"height":2.6},"encoding":{"color":{"field":"v","type":"quantitative","legend":null,"scale":{"domain":[0,10,20,30,40,50],"range":["#000000","#7f1619","#c8201f","#dd7a20","#f5e020","#ffffff"]}}}},
{"data":{"values":[{"c":88,"r":13.47,"s":"5"},{"c":88,"r":26.17,"s":"0"}]},"mark":{"type":"text","fontSize":17.5,"align":"left","baseline":"middle"},"encoding":{"text":{"field":"s"}}},
{"data":{"values":[{"c":0.5,"c2":80.5,"r":3.49}]},"mark":{"type":"rule","color":"#fff","strokeWidth":1.3,"strokeDash":[6,3]},"encoding":{"x2":{"field":"c2"}}},
{"data":{"values":[{"c":-11.37,"r":13,"s":"TTX"}]},"mark":{"type":"text","fontSize":22,"angle":270,"align":"center","baseline":"middle"},"encoding":{"text":{"field":"s"}}},
{"data":{"values":[{"c":-6.38,"r":14.64,"s":"Time (minutes)"}]},"mark":{"type":"text","fontSize":18.3,"angle":270,"align":"center","baseline":"middle"},"encoding":{"text":{"field":"s"}}},
{"data":{"values":[{"c":36.9,"r":33.4,"s":"Ranked position from stimulated spine"}]},"mark":{"type":"text","fontSize":17.7,"align":"center","baseline":"middle"},"encoding":{"text":{"field":"s"}}},
{"data":{"values":[{"c":91.8,"r":20.72,"s":"volume"},{"c":95.4,"r":20.18,"s":"Normalized"}]},"mark":{"type":"text","fontSize":17,"angle":90,"align":"center","baseline":"middle"},"encoding":{"text":{"field":"s"}}}
]}]},
{"bounds":"flush","spacing":0,"hconcat":[
{"width":48.7,"height":273.8,"data":{"values":[{}]},"mark":{"type":"point","opacity":0},"encoding":{}},
{"width":121.3,"height":197.7,
"encoding":{"x":{"field":"x","type":"quantitative","scale":{"domain":[0.54,4.51]},"axis":{"values":[1,2,3,4],"labelExpr":"datum.value%2==1?'Near':'Far'","labelOverlap":false,"labelAngle":-45,"labelAlign":"center","labelBaseline":"middle","labelFontSize":18,"labelPadding":11,"title":null}},"y":{"field":"y","type":"quantitative","scale":{"domain":[0,6]},"axis":{"values":[0,1,2,3,4,5,6],"labelFontSize":17,"title":"Normalized volume","titleX":-25,"titleY":105}}},
"layer":[
{"data":{"name":"b_cn"},"mark":{"type":"point","filled":true,"size":50,"color":"#222","stroke":"#555","strokeWidth":0.7,"opacity":1}},
{"data":{"name":"b_cf"},"mark":{"type":"point","size":40,"fill":"#fff","fillOpacity":1,"stroke":"#222","strokeWidth":1.1,"opacity":1}},
{"data":{"name":"b_tn"},"mark":{"type":"point","filled":true,"size":50,"color":"#b5191f","stroke":"#3a0a0a","strokeWidth":0.9,"opacity":1}},
{"data":{"name":"b_tf"},"mark":{"type":"point","size":40,"fill":"#fff","fillOpacity":1,"stroke":"#d4333a","strokeWidth":1.1,"opacity":1}},
{"data":{"name":"b_mean"},"mark":{"type":"rule","color":"#000","strokeWidth":3},"encoding":{"x2":{"field":"x2"}}},
{"data":{"name":"b_br"},"mark":{"type":"line","color":"#333","strokeWidth":1.3},"encoding":{"detail":{"field":"k"}}},
{"data":{"values":[{"x":1.8,"y":5.97,"s":"ns"}]},"mark":{"type":"text","fontSize":17,"align":"center","baseline":"middle"},"encoding":{"text":{"field":"s"}}},
{"data":{"values":[{"x":3.5,"y":5.87,"s":"***"}]},"mark":{"type":"text","fontSize":14,"fontWeight":"bold","align":"center","baseline":"middle"},"encoding":{"text":{"field":"s"}}},
{"data":{"values":[{"x":1.47,"y":-1.32,"s":"Control"},{"x":3.47,"y":-1.32,"s":"TTX"}]},"mark":{"type":"text","fontSize":17,"align":"center","baseline":"middle"},"encoding":{"text":{"field":"s"}}},
{"data":{"values":[{"x":-0.79,"y":6.34,"s":"B"}]},"mark":{"type":"text","fontSize":14,"fontWeight":"bold","align":"center","baseline":"middle"},"encoding":{"text":{"field":"s"}}}
]},
{"width":74.3,"height":1,"data":{"values":[{}]},"mark":{"type":"point","opacity":0},"encoding":{}},
{"width":197.4,"height":197.5,
"encoding":{"x":{"field":"t","type":"quantitative","scale":{"domain":[-20,60]},"axis":{"values":[-15,0,15,30,45,60],"labelExpr":"replace(datum.label,'−','-')","labelAngle":0,"labelFontSize":16,"labelPadding":4,"title":"Time (minutes)","titleFontSize":18,"titleX":111.7,"titleY":40,"titleBaseline":"middle"}},"y":{"field":"m","type":"quantitative","scale":{"domain":[0.5,3]},"axis":{"values":[0.5,1,1.5,2,2.5,3],"format":".1f","labelFontSize":16,"title":"Normalized volume","titleX":-37,"titleY":99}}},
"layer":[
{"data":{"name":"c_f"},"mark":{"type":"rule","color":"#111","strokeWidth":2},"encoding":{"y":{"field":"lo","type":"quantitative","scale":{"domain":[0.5,3]}},"y2":{"field":"hi"}}},
{"data":{"name":"c_n"},"mark":{"type":"rule","color":"#111","strokeWidth":2},"encoding":{"y":{"field":"lo","type":"quantitative","scale":{"domain":[0.5,3]}},"y2":{"field":"hi"}}},
{"data":{"name":"c_f"},"mark":{"type":"tick","orient":"horizontal","color":"#111","size":10,"thickness":2},"encoding":{"y":{"field":"lo","type":"quantitative","scale":{"domain":[0.5,3]}}}},
{"data":{"name":"c_f"},"mark":{"type":"tick","orient":"horizontal","color":"#111","size":10,"thickness":2},"encoding":{"y":{"field":"hi","type":"quantitative","scale":{"domain":[0.5,3]}}}},
{"data":{"name":"c_n"},"mark":{"type":"tick","orient":"horizontal","color":"#111","size":10,"thickness":2},"encoding":{"y":{"field":"lo","type":"quantitative","scale":{"domain":[0.5,3]}}}},
{"data":{"name":"c_n"},"mark":{"type":"tick","orient":"horizontal","color":"#111","size":10,"thickness":2},"encoding":{"y":{"field":"hi","type":"quantitative","scale":{"domain":[0.5,3]}}}},
{"data":{"name":"c_f"},"mark":{"type":"line","color":"#111","strokeWidth":2.2}},
{"data":{"name":"c_n"},"mark":{"type":"line","color":"#111","strokeWidth":2.2}},
{"data":{"name":"c_f"},"mark":{"type":"point","size":34,"fill":"#fff","fillOpacity":1,"stroke":"#111","strokeWidth":1.4,"opacity":1}},
{"data":{"name":"c_n"},"mark":{"type":"point","filled":true,"size":48,"color":"#111","opacity":1}},
{"data":{"values":[{"t":20,"s":"Control","m":2.87}]},"mark":{"type":"text","fontSize":19.5,"align":"center","baseline":"middle"},"encoding":{"text":{"field":"s"}}},
{"data":{"values":[{"k":"Near","t":16.1,"m":2.43},{"k":"Near","t":23.2,"m":2.43},{"k":"Far","t":16.1,"m":2.21},{"k":"Far","t":23.2,"m":2.21}]},"mark":{"type":"line","color":"#111","strokeWidth":2},"encoding":{"detail":{"field":"k"}}},
{"data":{"values":[{"t":19.7,"m":2.21}]},"mark":{"type":"point","size":34,"fill":"#fff","fillOpacity":1,"stroke":"#111","strokeWidth":1.4,"opacity":1}},
{"data":{"values":[{"t":19.7,"m":2.43}]},"mark":{"type":"point","filled":true,"size":48,"color":"#111","opacity":1}},
{"data":{"values":[{"t":27.8,"m":2.43,"s":"Near"},{"t":27.8,"m":2.21,"s":"Far"}]},"mark":{"type":"text","fontSize":17,"align":"left","baseline":"middle"},"encoding":{"text":{"field":"s"}}},
{"data":{"values":[{"t":-39.7,"m":3.18,"s":"C"}]},"mark":{"type":"text","fontSize":14,"fontWeight":"bold","align":"center","baseline":"middle"},"encoding":{"text":{"field":"s"}}}
]},
{"width":67.6,"height":1,"data":{"values":[{}]},"mark":{"type":"point","opacity":0},"encoding":{}},
{"width":196.7,"height":199.7,
"encoding":{"x":{"field":"t","type":"quantitative","scale":{"domain":[-20,60]},"axis":{"values":[-15,0,15,30,45,60],"labelExpr":"replace(datum.label,'−','-')","labelAngle":0,"labelFontSize":16,"labelPadding":4,"title":"Time (minutes)","titleFontSize":18,"titleX":118.7,"titleY":38.3,"titleBaseline":"middle"}},"y":{"field":"m","type":"quantitative","scale":{"domain":[0.5,3.03]},"axis":{"values":[0.5,1,1.5,2,2.5,3],"format":".1f","labelFontSize":16,"title":"Normalized volume","titleX":-36.5,"titleY":99}}},
"layer":[
{"data":{"name":"d_f"},"mark":{"type":"rule","color":"#d4333a","strokeWidth":2},"encoding":{"y":{"field":"lo","type":"quantitative","scale":{"domain":[0.5,3.03]}},"y2":{"field":"hi"}}},
{"data":{"name":"d_n"},"mark":{"type":"rule","color":"#b5191f","strokeWidth":2},"encoding":{"y":{"field":"lo","type":"quantitative","scale":{"domain":[0.5,3.03]}},"y2":{"field":"hi"}}},
{"data":{"name":"d_f"},"mark":{"type":"tick","orient":"horizontal","color":"#d4333a","size":10,"thickness":2},"encoding":{"y":{"field":"lo","type":"quantitative","scale":{"domain":[0.5,3.03]}}}},
{"data":{"name":"d_f"},"mark":{"type":"tick","orient":"horizontal","color":"#d4333a","size":10,"thickness":2},"encoding":{"y":{"field":"hi","type":"quantitative","scale":{"domain":[0.5,3.03]}}}},
{"data":{"name":"d_n"},"mark":{"type":"tick","orient":"horizontal","color":"#b5191f","size":10,"thickness":2},"encoding":{"y":{"field":"lo","type":"quantitative","scale":{"domain":[0.5,3.03]}}}},
{"data":{"name":"d_n"},"mark":{"type":"tick","orient":"horizontal","color":"#b5191f","size":10,"thickness":2},"encoding":{"y":{"field":"hi","type":"quantitative","scale":{"domain":[0.5,3.03]}}}},
{"data":{"name":"d_f"},"mark":{"type":"line","color":"#d4333a","strokeWidth":2.2}},
{"data":{"name":"d_n"},"mark":{"type":"line","color":"#b5191f","strokeWidth":2.2}},
{"data":{"name":"d_f"},"mark":{"type":"point","size":34,"fill":"#fff","fillOpacity":1,"stroke":"#d4333a","strokeWidth":1.4,"opacity":1}},
{"data":{"name":"d_n"},"mark":{"type":"point","filled":true,"size":48,"color":"#a81b22","opacity":1}},
{"data":{"values":[{"t":23.3,"s":"TTX","m":2.89}]},"mark":{"type":"text","fontSize":19.5,"align":"center","baseline":"middle"},"encoding":{"text":{"field":"s"}}},
{"data":{"values":[{"k":"Near","t":26.4,"m":2.47},{"k":"Near","t":33.2,"m":2.47},{"k":"Far","t":26.4,"m":2.24},{"k":"Far","t":33.2,"m":2.24}]},"mark":{"type":"line","color":"#b5191f","strokeWidth":2},"encoding":{"detail":{"field":"k"}}},
{"data":{"values":[{"t":29.8,"m":2.24}]},"mark":{"type":"point","size":34,"fill":"#fff","fillOpacity":1,"stroke":"#d4333a","strokeWidth":1.4,"opacity":1}},
{"data":{"values":[{"t":29.8,"m":2.47}]},"mark":{"type":"point","filled":true,"size":48,"color":"#a81b22","opacity":1}},
{"data":{"values":[{"t":37.2,"m":2.47,"s":"Near"},{"t":37.2,"m":2.24,"s":"Far"}]},"mark":{"type":"text","fontSize":17,"align":"left","baseline":"middle"},"encoding":{"text":{"field":"s"}}},
{"data":{"values":[{"t":27.7,"m":1.71,"s":"* (p < 0.05)"}]},"mark":{"type":"text","fontSize":17.5,"align":"left","baseline":"middle"},"encoding":{"text":{"field":"s"}}},
{"data":{"values":[{"t":-42.9,"m":3.15,"s":"D"}]},"mark":{"type":"text","fontSize":14,"fontWeight":"bold","align":"center","baseline":"middle"},"encoding":{"text":{"field":"s"}}}
]}]},
{"bounds":"flush","spacing":0,"hconcat":[
{"width":67.9,"height":1,"data":{"values":[{}]},"mark":{"type":"point","opacity":0},"encoding":{}},
{"width":235.4,"height":236.6,
"encoding":{"x":{"field":"x","type":"quantitative","scale":{"domain":[0,25]},"axis":{"values":[5,10,15,20,25],"offset":-118.3,"labelAngle":0,"labelFontSize":16,"labelPadding":3,"title":"Distance from stimulated spine (µm)","titleFontSize":17.5,"titleX":144,"titleY":132,"titleBaseline":"middle"}},"y":{"field":"y","type":"quantitative","scale":{"domain":[-1,1]},"axis":{"values":[-1,-0.5,0,0.5,1],"format":".1f","labelExpr":"replace(datum.label,'−','-')","labelFontSize":16,"title":"Correlation coefficient","titleFontSize":17.8,"titleX":-40,"titleY":102.3}}},
"layer":[
{"data":{"name":"e_pts"},"mark":{"type":"point","filled":true,"size":30,"color":"#222","opacity":1}},
{"data":{"values":[{"x":0,"y":-0.068},{"x":19.5,"y":-0.142}]},"mark":{"type":"line","color":"#111","strokeWidth":2.6,"strokeDash":[10,5]}},
{"data":{"values":[{"x":11.9,"y":0.95,"s":"Control"}]},"mark":{"type":"text","fontSize":19.5,"align":"center","baseline":"middle"},"encoding":{"text":{"field":"s"}}},
{"data":{"values":[{"x":23.8,"y":-0.35,"s":"ns"}]},"mark":{"type":"text","fontSize":22,"align":"center","baseline":"middle"},"encoding":{"text":{"field":"s"}}},
{"data":{"values":[{"x":-6.4,"y":1.1,"s":"E"}]},"mark":{"type":"text","fontSize":14,"fontWeight":"bold","align":"center","baseline":"middle"},"encoding":{"text":{"field":"s"}}}
]},
{"width":133.4,"height":1,"data":{"values":[{}]},"mark":{"type":"point","opacity":0},"encoding":{}},
{"width":235.6,"height":236.6,
"encoding":{"x":{"field":"x","type":"quantitative","scale":{"domain":[0,25]},"axis":{"values":[5,10,15,20,25],"offset":-118.3,"labelAngle":0,"labelFontSize":16,"labelPadding":3,"title":"Distance from stimulated spine (µm)","titleFontSize":17.5,"titleX":149,"titleY":132,"titleBaseline":"middle"}},"y":{"field":"y","type":"quantitative","scale":{"domain":[-1,1]},"axis":{"values":[-1,-0.5,0,0.5,1],"format":".1f","labelExpr":"replace(datum.label,'−','-')","labelFontSize":16,"title":"Correlation coefficient","titleFontSize":17.8,"titleX":-43,"titleY":102.3}}},
"layer":[
{"data":{"name":"f_pts"},"mark":{"type":"point","filled":true,"size":38,"color":"#b5191f","stroke":"#3a0a0a","strokeWidth":0.8,"opacity":1}},
{"data":{"values":[{"x":0,"y":0.174},{"x":21.8,"y":-0.38}]},"mark":{"type":"line","color":"#7a1a20","strokeWidth":3,"strokeDash":[10,5]}},
{"data":{"values":[{"x":12.9,"y":0.95,"s":"TTX"}]},"mark":{"type":"text","fontSize":19.5,"align":"center","baseline":"middle"},"encoding":{"text":{"field":"s"}}},
{"data":{"values":[{"x":23.9,"y":-0.42,"s":"***"}]},"mark":{"type":"text","fontSize":19,"align":"center","baseline":"middle"},"encoding":{"text":{"field":"s"}}},
{"data":{"values":[{"x":-7.18,"y":1.1,"s":"F"}]},"mark":{"type":"text","fontSize":14,"fontWeight":"bold","align":"center","baseline":"middle"},"encoding":{"text":{"field":"s"}}}
]}]}
]}
